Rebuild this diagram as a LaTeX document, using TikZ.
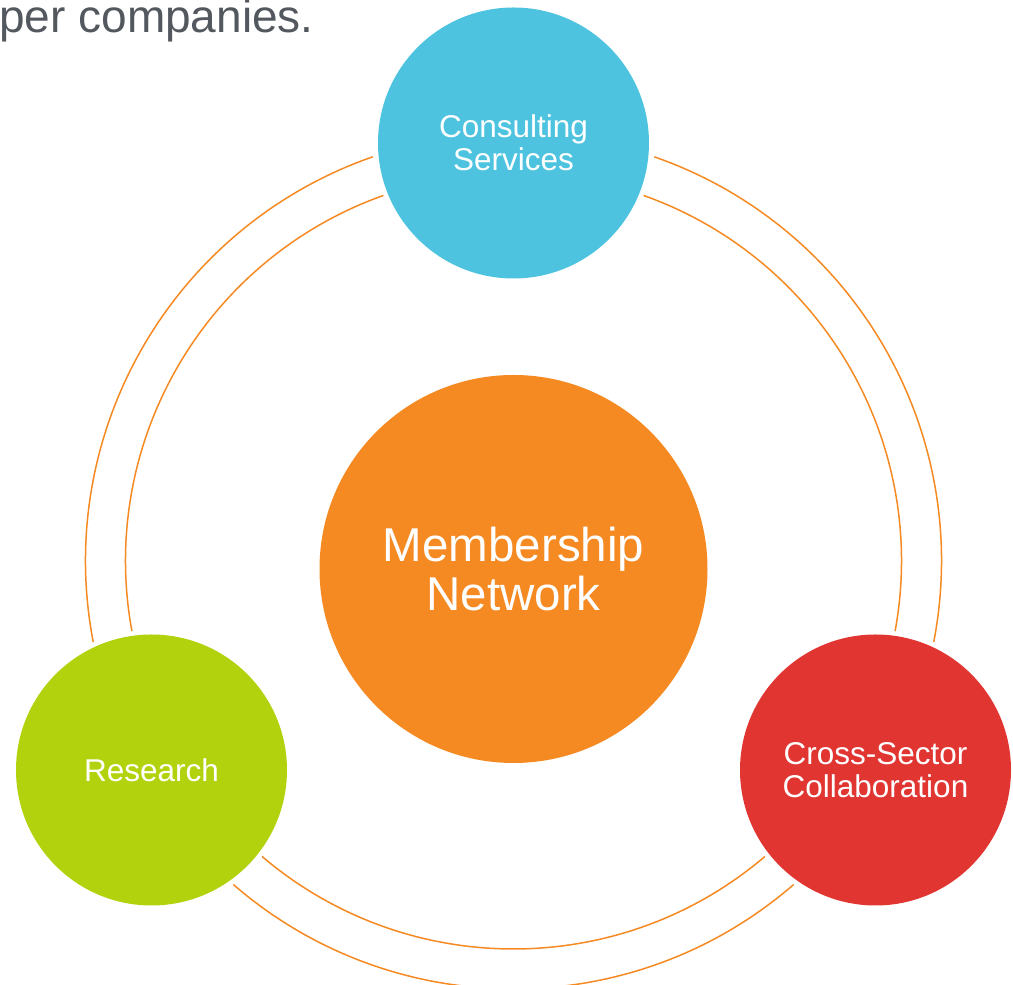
\documentclass[tikz,border=0pt]{standalone}
\usepackage{fontspec}
\setmainfont{Liberation Sans}
\definecolor{cblue}{RGB}{77,195,224}
\definecolor{corange}{RGB}{245,138,35}
\definecolor{cgreen}{RGB}{178,210,14}
\definecolor{cred}{RGB}{224,53,49}
\definecolor{ctitle}{RGB}{83,88,95}
\begin{document}
\begin{tikzpicture}[x=1pt,y=1pt,
  sat/.style={circle, minimum size=271pt, inner sep=0pt, text=white, align=center,
              font=\fontsize{31.5}{33}\selectfont},
  hubstyle/.style={circle, minimum size=388pt, inner sep=0pt, text=white, align=center,
              fill=corange, font=\fontsize{47.5}{49}\selectfont},
  ring/.style={draw=corange, line width=1.5pt},
  titlestyle/.style={anchor=base east, inner sep=0pt, text=ctitle, font=\fontsize{46}{50}\selectfont}]
\useasboundingbox (0,0) rectangle (1013,985);
\clip (0,0) rectangle (1013,985);
\coordinate (rc) at (513.5,424);
% rings
\draw[ring] ([shift={(-10.9:428)}]rc) arc[start angle=-10.9, end angle=70.8, radius=428];
\draw[ring] ([shift={(109.2:428)}]rc) arc[start angle=109.2, end angle=190.9, radius=428];
\draw[ring] ([shift={(229.1:428)}]rc) arc[start angle=229.1, end angle=310.9, radius=428];
\draw[ring] ([shift={(-10.4:388)}]rc) arc[start angle=-10.4, end angle=70.4, radius=388];
\draw[ring] ([shift={(109.6:388)}]rc) arc[start angle=109.6, end angle=190.4, radius=388];
\draw[ring] ([shift={(229.6:388)}]rc) arc[start angle=229.6, end angle=310.4, radius=388];
% nodes
\node[hubstyle] (hub) at (513.5,416) {Membership\\Network};
\node[sat, fill=cblue] (cons) at (513.5,842) {Consulting\\Services};
\node[sat, fill=cgreen] (res) at (151.5,215) {Research};
\node[sat, fill=cred] (cross) at (875.5,215) {Cross-Sector\\Collaboration};
\node[titlestyle] (title) at (314,952) {per companies.};
\end{tikzpicture}
\end{document}
